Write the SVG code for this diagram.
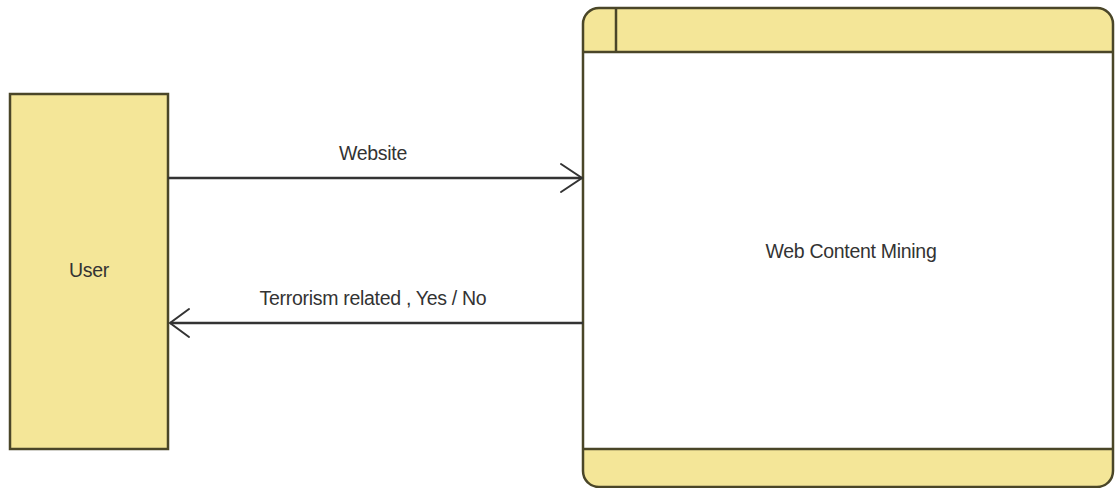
<svg xmlns="http://www.w3.org/2000/svg" width="1115" height="488" viewBox="0 0 1115 488">
  <style>
    .box { fill: #f4e698; stroke: #4a4628; stroke-width: 2.5; }
    .edge { stroke: #4a4628; stroke-width: 2.5; fill: none; }
    .conn { stroke: #333333; stroke-width: 2.5; fill: none; }
    .head { stroke: #333333; stroke-width: 2; fill: none; stroke-linecap: round; stroke-linejoin: miter; }
    .lbl { font-family: "Liberation Sans", Arial, sans-serif; font-size: 19.5px; fill: #333333; text-anchor: middle; letter-spacing: -0.3px; }
  </style>
  <defs>
    <clipPath id="procClip">
      <rect x="583" y="8" width="530" height="479" rx="16" ry="16"/>
    </clipPath>
  </defs>
  <g id="user">
    <rect class="box" x="10" y="94" width="158" height="355"/>
    <text class="lbl" x="89" y="277">User</text>
  </g>
  <g id="web-content-mining">
    <g clip-path="url(#procClip)">
      <rect x="583" y="8" width="530" height="479" fill="#ffffff"/>
      <rect x="583" y="8" width="530" height="44" fill="#f4e698"/>
      <rect x="583" y="449" width="530" height="38" fill="#f4e698"/>
    </g>
    <line class="edge" x1="583" y1="52" x2="1113" y2="52"/>
    <line class="edge" x1="583" y1="449" x2="1113" y2="449"/>
    <line class="edge" x1="616" y1="8" x2="616" y2="52"/>
    <rect class="edge" x="583" y="8" width="530" height="479" rx="16" ry="16"/>
    <text class="lbl" x="851" y="258">Web Content Mining</text>
  </g>
  <g id="connectors">
    <line class="conn" x1="168" y1="178" x2="582" y2="178"/>
    <polyline class="head" points="561,164 582,178 561,192"/>
    <text class="lbl" x="373" y="160">Website</text>
    <line class="conn" x1="583" y1="323" x2="170" y2="323"/>
    <polyline class="head" points="189,309 170,323 189,337"/>
    <text class="lbl" x="373" y="305">Terrorism related , Yes / No</text>
  </g>
</svg>
